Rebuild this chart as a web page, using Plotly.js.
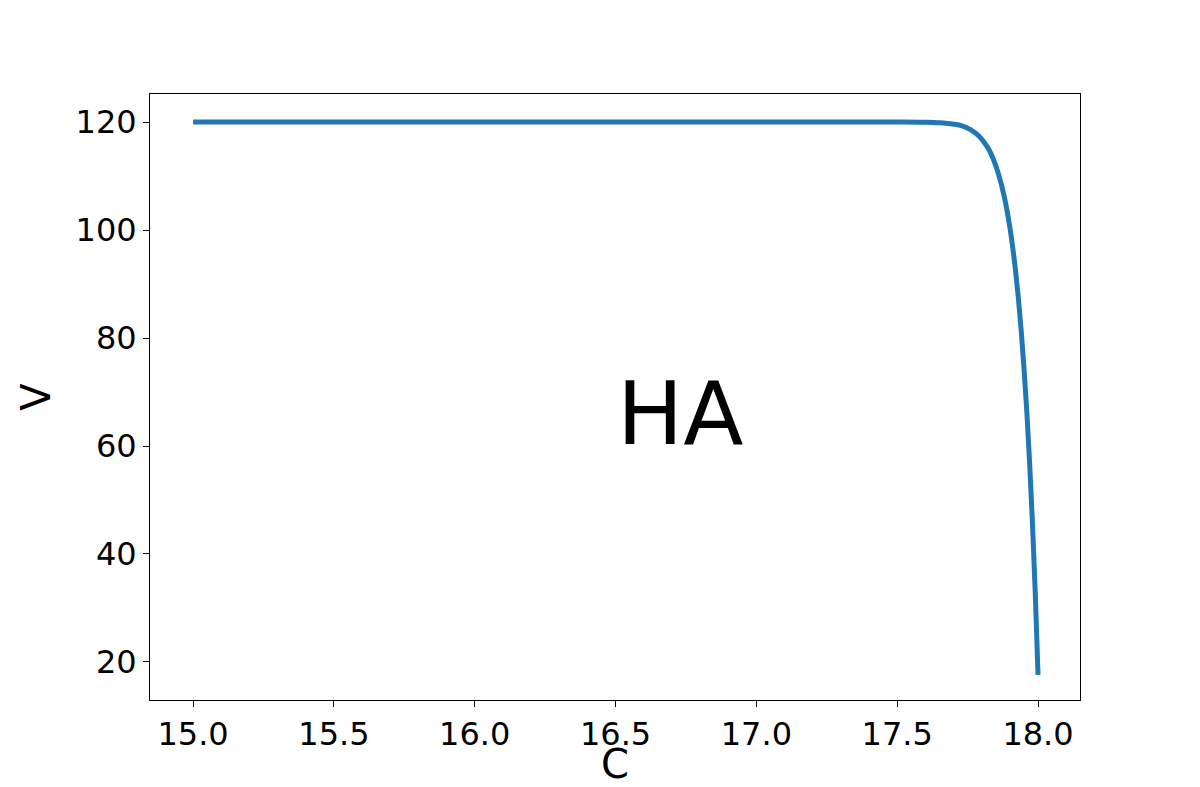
<!DOCTYPE html>
<html>
<head>
<meta charset="utf-8">
<script src="https://cdn.plot.ly/plotly-3.0.1.min.js"></script>
<style>html,body{margin:0;padding:0;background:#fff}#plot{width:1200px;height:787px}</style>
</head>
<body>
<div id="plot"></div>
<script>
const cValues = [15.0, 15.5, 16.0, 16.5, 17.0, 17.5, 17.6, 17.65, 17.7, 17.73, 17.76, 17.79, 17.82, 17.84, 17.86, 17.88, 17.9, 17.91, 17.92, 17.93, 17.94, 17.95, 17.96, 17.97, 17.98, 17.99, 18.0];
const vValues = [120, 120, 120, 120, 120, 120, 119.95, 119.85, 119.6, 119.3, 118.6, 117.4, 115.4, 113.3, 110.3, 106.2, 100.5, 96.8, 92.5, 87.5, 81.5, 74.5, 66.5, 57, 46, 33, 17.6];
const xTicks = [15.0, 15.5, 16.0, 16.5, 17.0, 17.5, 18.0];
const yTicks = [20, 40, 60, 80, 100, 120];

const axisCommon = {
  showgrid: false,
  zeroline: false,
  showline: true,
  mirror: true,
  linecolor: "#000",
  linewidth: 1,
  ticks: "outside",
  ticklen: 6,
  tickcolor: "#000",
  tickfont: { size: 32, color: "#000" },
};

Plotly.newPlot(
  "plot",
  [
    {
      type: "scatter",
      mode: "lines",
      x: cValues,
      y: vValues,
      line: { color: "#1f77b4", width: 5, shape: "spline", smoothing: 1 },
    },
  ],
  {
    width: 1200,
    height: 787,
    margin: { l: 150, r: 120, t: 94, b: 87 },
    paper_bgcolor: "#fff",
    plot_bgcolor: "#fff",
    font: { family: "DejaVu Sans, sans-serif", color: "#000" },
    showlegend: false,
    xaxis: {
      ...axisCommon,
      range: [14.847, 18.149],
      tickvals: xTicks,
      ticktext: xTicks.map((t) => t.toFixed(1)),
      title: { text: "C", font: { size: 40 }, standoff: 2 },
    },
    yaxis: {
      ...axisCommon,
      range: [12.96, 125.19],
      tickvals: yTicks,
      title: { text: "V", font: { size: 40 }, standoff: 12 },
    },
    annotations: [
      {
        x: 16.73,
        y: 66,
        xref: "x",
        yref: "y",
        text: "HA",
        showarrow: false,
        font: { size: 88, color: "#000" },
      },
    ],
  },
  { displayModeBar: false, staticPlot: true }
);
</script>
</body>
</html>
